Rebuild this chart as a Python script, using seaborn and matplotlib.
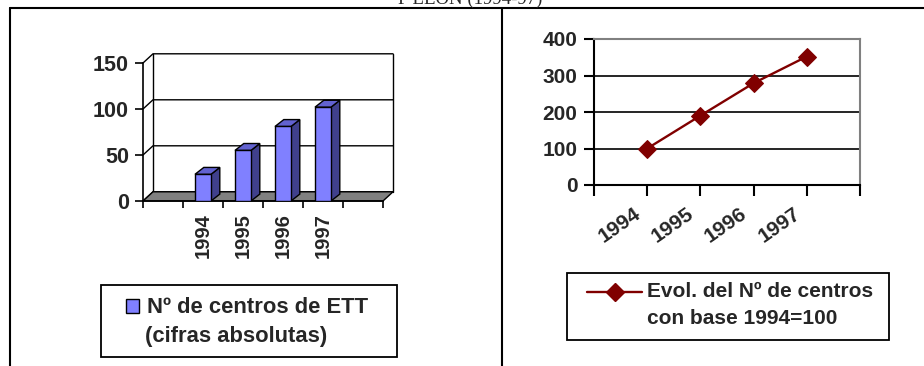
import matplotlib
matplotlib.use("Agg")
import matplotlib.pyplot as plt
from matplotlib.lines import Line2D
from matplotlib.patches import Polygon, Rectangle
from matplotlib.transforms import ScaledTranslation
import seaborn as sns
import pandas as pd

# ---- data -------------------------------------------------------------
anios = ["1994", "1995", "1996", "1997"]
centros_ett = [29, 55, 81, 102]            # Nº de centros de ETT (cifras absolutas)
indice_base_1994 = [100, 190, 279, 352]    # evolución con base 1994 = 100
ticks_centros = [0, 50, 100, 150]
ticks_indice = [0, 100, 200, 300, 400]
titulo = "P LEÓN (1994-97)"
leyenda_barras = ["Nº de centros de ETT", "(cifras absolutas)"]
leyenda_linea = ["Evol. del Nº de centros", "con base 1994=100"]

# ---- style ------------------------------------------------------------
sns.set_theme(style="white")
plt.rcParams["font.family"] = ["Liberation Sans", "DejaVu Sans"]
plt.rcParams["font.weight"] = "bold"

DPI = 100
W, H = 924, 366
fig = plt.figure(figsize=(W / DPI, H / DPI), dpi=DPI)


def fx(px):
    return px / W


def fy(py):
    return 1 - py / H


BAR_FRONT = "#8080FF"
BAR_TOP = "#6262D0"
BAR_SIDE = "#40408C"
LINE_COLOR = "#800000"

# ---- page frame and heading ---------------------------------------------
for xs, ys in [([9.5, 9.5], [7.5, 366]), ([9.5, 924], [7.5, 7.5]), ([502, 502], [7.5, 366])]:
    fig.add_artist(Line2D([fx(v) for v in xs], [fy(v) for v in ys],
                          transform=fig.transFigure, color="black", lw=1.5))
fig.text(fx(470), fy(3.5), titulo, family=["Liberation Serif", "DejaVu Serif"],
         fontsize=13.5, weight="normal", ha="center", va="baseline")

# ---- left: pseudo-3D column chart ----------------------------------------
axL = fig.add_axes([fx(143), fy(201), (383 - 143) / W, (201 - 63) / H])
axL.set_facecolor("none")
df_abs = pd.DataFrame({"anio": anios, "centros": centros_ett})
sns.barplot(data=df_abs, x="anio", y="centros", color=BAR_FRONT, saturation=1,
            width=0.4, edgecolor="black", linewidth=1.0, ax=axL, zorder=3)
bars = list(axL.patches)

axL.set_xlim(-1.5, 4.5)
axL.set_ylim(0, 150)
x_lo, x_hi = axL.get_xlim()

WX, WY = 0.25, 10.0   # depth of walls / floor in data units
BX, BY = 0.22, 7.5    # depth of each column

# back wall grid, side-wall diagonals and wall edges
for v in ticks_centros:
    axL.plot([x_lo, x_lo + WX, x_hi + WX], [v, v + WY, v + WY], color="black",
             lw=1.0, zorder=0.8, clip_on=False)
for xv in (x_lo + WX, x_hi + WX):
    axL.plot([xv, xv], [WY, ticks_centros[-1] + WY], color="black", lw=1.0,
             zorder=0.8, clip_on=False)

# floor
axL.add_patch(Polygon([(x_lo, 0), (x_hi, 0), (x_hi + WX, WY), (x_lo + WX, WY)],
                      closed=True, fc="#808080", ec="black", lw=1.0, zorder=1,
                      clip_on=False))

# column sides and tops
for b in bars:
    x0 = b.get_x()
    x1 = x0 + b.get_width()
    h = b.get_height()
    axL.add_patch(Polygon([(x1, 0), (x1 + BX, BY), (x1 + BX, h + BY), (x1, h)],
                          closed=True, fc=BAR_SIDE, ec="black", lw=1.0,
                          zorder=2.9, clip_on=False))
    axL.add_patch(Polygon([(x0, h), (x1, h), (x1 + BX, h + BY), (x0 + BX, h + BY)],
                          closed=True, fc=BAR_TOP, ec="black", lw=1.0,
                          zorder=2.9, clip_on=False))

for s in ("top", "right"):
    axL.spines[s].set_visible(False)
for s in ("left", "bottom"):
    axL.spines[s].set_color("black")
    axL.spines[s].set_linewidth(1.2)
axL.set_xlabel("")
axL.set_ylabel("")
axL.set_yticks(ticks_centros)
axL.tick_params(axis="y", left=True, direction="out", length=6, width=1.2,
                color="black", labelsize=15.5, pad=4)
axL.set_xticks(range(len(anios)), labels=anios, rotation=90)
axL.set_xticks([i + 0.5 for i in range(-2, len(anios) + 1)], minor=True)
axL.tick_params(axis="x", which="major", bottom=False, length=0, pad=9,
                labelsize=14.5)
axL.tick_params(axis="x", which="minor", bottom=True, direction="out",
                length=5, width=1.2, color="black")

# left legend
fig.add_artist(Rectangle((fx(101), fy(357)), (397 - 101) / W, (357 - 285) / H,
                         transform=fig.transFigure, fill=False, ec="black", lw=1.3))
fig.add_artist(Rectangle((fx(126), fy(313)), 13 / W, 14 / H,
                         transform=fig.transFigure, fc=BAR_FRONT, ec="black", lw=1.0))
fig.text(fx(147), fy(313), leyenda_barras[0], fontsize=15.8, weight="bold",
         ha="left", va="baseline")
fig.text(fx(145), fy(342), leyenda_barras[1], fontsize=15.8, weight="bold",
         ha="left", va="baseline")

# ---- right: line chart ------------------------------------------------------
axR = fig.add_axes([fx(594), fy(185), (860 - 594) / W, (185 - 39) / H])
df_idx = pd.DataFrame({"anio": [int(a) for a in anios], "indice": indice_base_1994})
sns.lineplot(data=df_idx, x="anio", y="indice", color=LINE_COLOR, lw=1.7,
             marker="D", markersize=9.5, markeredgecolor=LINE_COLOR, ax=axR, zorder=3)
first, last = df_idx["anio"].min() - 1, df_idx["anio"].max() + 1
axR.set_xlim(first, last)
axR.set_ylim(ticks_indice[0], ticks_indice[-1])
axR.set_yticks(ticks_indice)
axR.set_xticks(range(first, last + 1), labels=[""] + anios + [""])
axR.set_xlabel("")
axR.set_ylabel("")
axR.yaxis.grid(True, color="black", lw=1.2)
axR.set_axisbelow(True)
for s in ("left", "bottom"):
    axR.spines[s].set_color("black")
    axR.spines[s].set_linewidth(1.5)
for s in ("top", "right"):
    axR.spines[s].set_color("#808080")
    axR.spines[s].set_linewidth(1.5)
axR.tick_params(axis="y", left=True, direction="out", length=7, width=1.5,
                color="black", labelsize=15, pad=5)
axR.tick_params(axis="x", bottom=True, direction="out", length=8, width=1.5,
                color="black", labelsize=15, pad=6)
shift = ScaledTranslation(-14 / DPI, 0, fig.dpi_scale_trans)
for lbl in axR.get_xticklabels():
    lbl.set_rotation(35)
    lbl.set_ha("right")
    lbl.set_va("top")
    lbl.set_rotation_mode("anchor")
    lbl.set_transform(lbl.get_transform() + shift)

# right legend
fig.add_artist(Rectangle((fx(567), fy(340)), (889 - 567) / W, (340 - 273) / H,
                         transform=fig.transFigure, fill=False, ec="black", lw=1.3))
fig.add_artist(Line2D([fx(587), fx(642)], [fy(292), fy(292)],
                      transform=fig.transFigure, color=LINE_COLOR, lw=1.7))
fig.add_artist(Line2D([fx(615)], [fy(292)], transform=fig.transFigure,
                      color=LINE_COLOR, marker="D", markersize=9))
fig.text(fx(647), fy(297), leyenda_linea[0], fontsize=15, weight="bold",
         ha="left", va="baseline")
fig.text(fx(647), fy(324), leyenda_linea[1], fontsize=15, weight="bold",
         ha="left", va="baseline")

fig.savefig("out.png", dpi=DPI)
